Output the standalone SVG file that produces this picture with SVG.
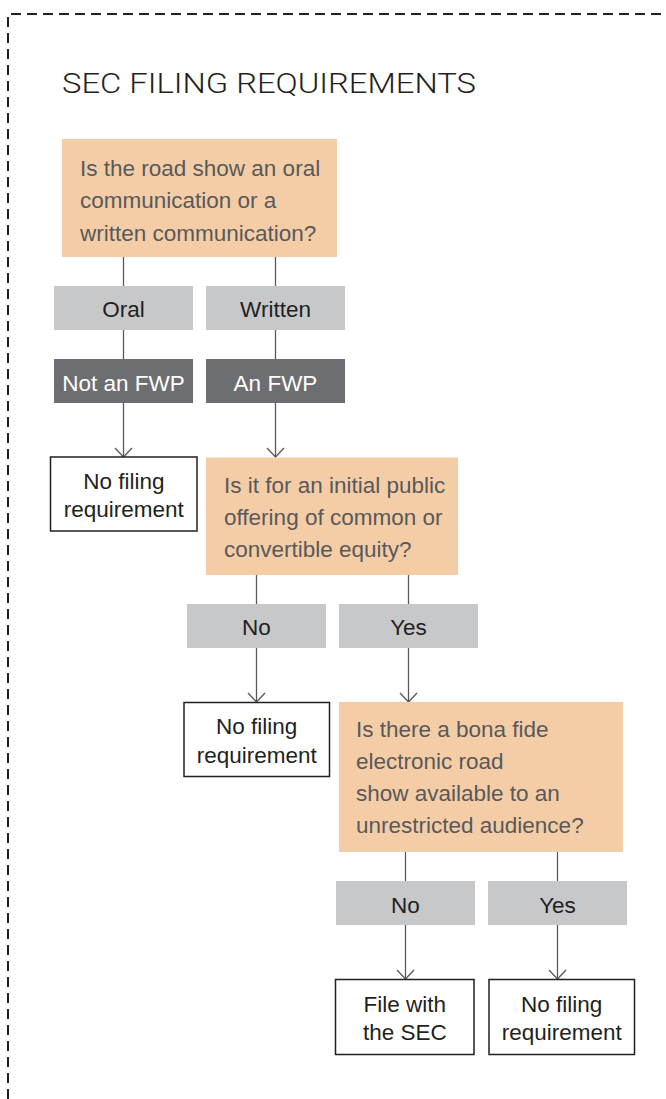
<svg xmlns="http://www.w3.org/2000/svg" width="666" height="1099" viewBox="0 0 666 1099">
<style>
text{font-family:"Liberation Sans",Arial,sans-serif;font-size:22.5px}
.title{font-family:Roboto,"Liberation Sans",Arial,sans-serif;font-weight:300;font-size:27.5px;fill:#231f20}
.q{fill:#f4cda6}
.qt{fill:#58595b}
.g{fill:#c7c8ca}
.gt{fill:#231f20;text-anchor:middle}
.d{fill:#6d6e71}
.dt{fill:#ffffff;text-anchor:middle}
.w{fill:#ffffff;stroke:#231f20;stroke-width:1.5}
.wt{fill:#231f20;text-anchor:middle}
.c{stroke:#58595b;stroke-width:1.3;fill:none}
.a{marker-end:url(#arr)}
</style>
<defs>
<marker id="arr" markerUnits="userSpaceOnUse" orient="auto" refX="0" refY="0" markerWidth="20" markerHeight="20" viewBox="-10 -10 20 20" overflow="visible">
<path d="M-9,-8.5 L0,0 L-9,8.5" fill="none" stroke="#58595b" stroke-width="1.3"/>
</marker>
</defs>
<rect width="666" height="1099" fill="#ffffff"/>
<path d="M8,1099 V14 H666" fill="none" stroke="#231f20" stroke-width="2" stroke-dasharray="10 6"/>
<text class="title" x="62" y="92.5" textLength="414" lengthAdjust="spacingAndGlyphs">SEC FILING REQUIREMENTS</text>

<g id="connectors">
<line class="c" x1="123.5" y1="257" x2="123.5" y2="286"/>
<line class="c" x1="123.5" y1="330" x2="123.5" y2="359"/>
<line class="c a" x1="123.5" y1="403" x2="123.5" y2="457"/>
<line class="c" x1="275.5" y1="257" x2="275.5" y2="286"/>
<line class="c" x1="275.5" y1="330" x2="275.5" y2="359"/>
<line class="c a" x1="275.5" y1="403" x2="275.5" y2="457"/>
<line class="c" x1="256.5" y1="575" x2="256.5" y2="604"/>
<line class="c a" x1="256.5" y1="648" x2="256.5" y2="702"/>
<line class="c" x1="408.5" y1="575" x2="408.5" y2="604"/>
<line class="c a" x1="408.5" y1="648" x2="408.5" y2="702"/>
<line class="c" x1="405.5" y1="852" x2="405.5" y2="881"/>
<line class="c a" x1="405.5" y1="925" x2="405.5" y2="979"/>
<line class="c" x1="557.5" y1="852" x2="557.5" y2="881"/>
<line class="c a" x1="557.5" y1="925" x2="557.5" y2="979"/>
</g>

<g id="q1">
<rect class="q" x="62" y="139" width="275" height="118"/>
<text class="qt" x="80" y="176">Is the road show an oral</text>
<text class="qt" x="80" y="208">communication or a</text>
<text class="qt" x="80" y="240.5">written communication?</text>
</g>

<g id="oral"><rect class="g" x="54" y="286" width="139" height="44"/><text class="gt" x="123.5" y="317">Oral</text></g>
<g id="written"><rect class="g" x="206" y="286" width="139" height="44"/><text class="gt" x="275.5" y="317">Written</text></g>

<g id="notfwp"><rect class="d" x="54" y="359" width="139" height="44"/><text class="dt" x="123.5" y="390.5">Not an FWP</text></g>
<g id="fwp"><rect class="d" x="206" y="359" width="139" height="44"/><text class="dt" x="275.5" y="390.5">An FWP</text></g>

<g id="nofiling1">
<rect class="w" x="50.5" y="457" width="146.5" height="74"/>
<text class="wt" x="123.8" y="488.5">No filing</text>
<text class="wt" x="123.8" y="516.7">requirement</text>
</g>

<g id="q2">
<rect class="q" x="206" y="457.5" width="252" height="117.5"/>
<text class="qt" x="224" y="492.5">Is it for an initial public</text>
<text class="qt" x="224" y="524.5">offering of common or</text>
<text class="qt" x="224" y="556.5">convertible equity?</text>
</g>

<g id="no1"><rect class="g" x="187" y="604" width="139" height="44"/><text class="gt" x="256.5" y="635">No</text></g>
<g id="yes1"><rect class="g" x="339" y="604" width="139" height="44"/><text class="gt" x="408.5" y="635">Yes</text></g>

<g id="nofiling2">
<rect class="w" x="184" y="702.5" width="145.5" height="74"/>
<text class="wt" x="256.7" y="734">No filing</text>
<text class="wt" x="256.7" y="762.7">requirement</text>
</g>

<g id="q3">
<rect class="q" x="339" y="702" width="284" height="150"/>
<text class="qt" x="356" y="736.7">Is there a bona fide</text>
<text class="qt" x="356" y="768.5">electronic road</text>
<text class="qt" x="356" y="801">show available to an</text>
<text class="qt" x="356" y="832.5">unrestricted audience?</text>
</g>

<g id="no2"><rect class="g" x="336" y="881" width="139" height="44"/><text class="gt" x="405.5" y="912.7">No</text></g>
<g id="yes2"><rect class="g" x="488" y="881" width="139" height="44"/><text class="gt" x="557.5" y="912.7">Yes</text></g>

<g id="filesec">
<rect class="w" x="335.5" y="979.5" width="138.5" height="75"/>
<text class="wt" x="404.8" y="1011.7">File with</text>
<text class="wt" x="404.8" y="1040">the SEC</text>
</g>

<g id="nofiling3">
<rect class="w" x="489" y="979.5" width="145.5" height="75"/>
<text class="wt" x="561.7" y="1011.7">No filing</text>
<text class="wt" x="561.7" y="1040">requirement</text>
</g>
</svg>
